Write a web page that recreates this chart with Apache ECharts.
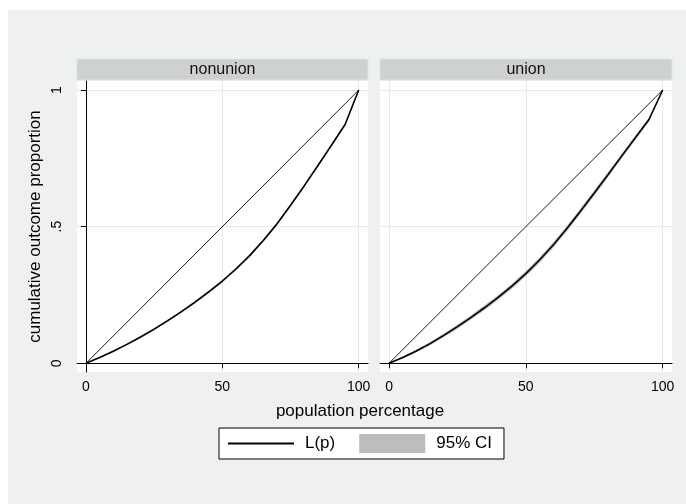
<!DOCTYPE html>
<html>
<head>
<meta charset="utf-8">
<script src="https://cdn.jsdelivr.net/npm/echarts@6/dist/echarts.min.js"></script>
<style>
  html, body { margin: 0; padding: 0; background: #fff; }
  #main { width: 686px; height: 504px; }
</style>
</head>
<body>
<div id="main"></div>
<script>
// population percentage grid (20 equally spaced points)
var pct = [0, 5, 10, 15, 20, 25, 30, 35, 40, 45, 50, 55, 60, 65, 70, 75, 80, 85, 90, 95, 100];

// Lorenz ordinates
var lorenzNonunion = [0, .021, .044, .069, .096, .125, .156, .189, .224, .261, .301, .345, .394, .449, .510, .578, .649, .723, .798, .874, 1];
var lorenzUnion    = [0, .021, .045, .072, .102, .134, .168, .204, .242, .283, .328, .378, .433, .493, .557, .623, .690, .758, .825, .892, 1];

// half width of the 95% CI band
var ciNonunion = [0, .002, .003, .003, .004, .004, .004, .004, .005, .005, .005, .005, .005, .005, .005, .005, .005, .005, .004, .004, 0];
var ciUnion    = [0, .004, .005, .006, .007, .008, .008, .009, .009, .009, .010, .010, .010, .010, .010, .010, .009, .009, .008, .007, 0];

// line of equality
var equalX = [0, 100];
var equalY = [0, 1];

var panels = ['nonunion', 'union'];
var xTicks = [0, 50, 100];
var yTicks = [0, 0.5, 1];

var FONT = '"Liberation Sans", Arial, sans-serif';

function pairs(xs, ys) {
  return xs.map(function (x, i) { return [x, ys[i]]; });
}
function bandRows(xs, ys, hw) {
  return xs.map(function (x, i) { return [x, ys[i] - hw[i], ys[i] + hw[i]]; });
}

// one polygon for the whole band, built through the axis scales
function bandRenderer(rows) {
  return function (params, api) {
    if (params.dataIndex !== 0) return null;
    var pts = [];
    rows.forEach(function (r) { pts.push(api.coord([r[0], r[2]])); });
    for (var i = rows.length - 1; i >= 0; i--) pts.push(api.coord([rows[i][0], rows[i][1]]));
    return {
      type: 'polygon',
      shape: { points: pts },
      style: { fill: '#bdbdbd', stroke: null }
    };
  };
}

var grids = [
  { left: 77, top: 81, width: 291, height: 291 },
  { left: 380, top: 81, width: 292, height: 291 }
];

var xAxes = [0, 1].map(function (i) {
  return {
    type: 'value', gridIndex: i, min: -3.3, max: 103.4,
    axisLine: { show: true, lineStyle: { color: '#000', width: 1 } },
    axisTick: { show: true, length: 5, customValues: xTicks, lineStyle: { color: '#000' } },
    axisLabel: { customValues: xTicks, margin: 8, color: '#000', fontSize: 14, fontFamily: FONT },
    splitLine: { show: true, lineStyle: { color: '#e9e9e9', width: 1 } }
  };
});

var yAxes = [0, 1].map(function (i) {
  return {
    type: 'value', gridIndex: i, min: -0.032, max: 1.033,
    name: i === 0 ? 'cumulative outcome proportion' : '',
    nameLocation: 'middle', nameGap: 33,
    nameTextStyle: { color: '#000', fontSize: 17, fontFamily: FONT },
    axisLine: { show: i === 0, lineStyle: { color: '#000', width: 1 } },
    axisTick: { show: i === 0, length: 5, customValues: yTicks, lineStyle: { color: '#000' } },
    axisLabel: {
      show: i === 0, customValues: yTicks, rotate: 90, margin: 13,
      color: '#000', fontSize: 14, fontFamily: FONT,
      formatter: function (v) { return v === 0.5 ? '.5' : String(v); }
    },
    splitLine: { show: true, lineStyle: { color: '#e9e9e9', width: 1 } }
  };
});

var lorenz = [lorenzNonunion, lorenzUnion];
var ci = [ciNonunion, ciUnion];
var series = [];
[0, 1].forEach(function (i) {
  var rows = bandRows(pct, lorenz[i], ci[i]);
  series.push({
    name: '95% CI', type: 'custom', xAxisIndex: i, yAxisIndex: i,
    data: rows, encode: { x: 0, y: [1, 2] },
    itemStyle: { color: '#bdbdbd' },
    renderItem: bandRenderer(rows), silent: true, z: 1
  });
  series.push({
    name: 'equality', type: 'line', xAxisIndex: i, yAxisIndex: i,
    data: pairs(equalX, equalY), showSymbol: false, symbol: 'none',
    lineStyle: { color: '#1a1a1a', width: 1 }, silent: true, z: 2
  });
  series.push({
    name: 'L(p)', type: 'line', xAxisIndex: i, yAxisIndex: i,
    data: pairs(pct, lorenz[i]), showSymbol: false, symbol: 'none',
    lineStyle: { color: '#000', width: 1.6 }, itemStyle: { color: '#000' },
    silent: true, z: 3
  });
});

var graphics = [
  { type: 'rect', left: 8, top: 10, z: -100, silent: true,
    shape: { width: 678, height: 494 }, style: { fill: '#eff1f0' } },
  { type: 'text', x: 360, y: 411, silent: true,
    style: { text: 'population percentage', fill: '#000', font: '17px ' + FONT,
             textAlign: 'center', textVerticalAlign: 'middle' } }
];
grids.forEach(function (g, i) {
  graphics.push({ type: 'rect', silent: true, shape: { x: g.left, y: 59, width: g.width, height: 21 },
    style: { fill: '#cfd1d1', stroke: '#dbe4e8', lineWidth: 1 } });
  graphics.push({ type: 'text', silent: true, x: g.left + g.width / 2, y: 70,
    style: { text: panels[i], fill: '#111', font: '16px ' + FONT,
             textAlign: 'center', textVerticalAlign: 'middle' } });
});

var chart = echarts.init(document.getElementById('main'), null, { renderer: 'canvas' });
chart.setOption({
  animation: false,
  backgroundColor: '#fff',
  grid: grids.map(function (g) {
    return Object.assign({ show: true, backgroundColor: '#fff', borderWidth: 0 }, g);
  }),
  xAxis: xAxes,
  yAxis: yAxes,
  legend: {
    data: [{ name: 'L(p)', itemStyle: { opacity: 0 } }, { name: '95% CI', icon: 'rect' }],
    left: 219, top: 428, orient: 'horizontal',
    itemWidth: 66, itemHeight: 19, itemGap: 24,
    padding: [6, 12, 6, 8],
    backgroundColor: '#fff', borderColor: '#000', borderWidth: 1, borderRadius: 0,
    textStyle: { color: '#000', fontSize: 17, fontFamily: FONT, padding: [0, 0, 0, 6] },
    selectedMode: false
  },
  graphic: graphics,
  series: series
});
</script>
</body>
</html>
